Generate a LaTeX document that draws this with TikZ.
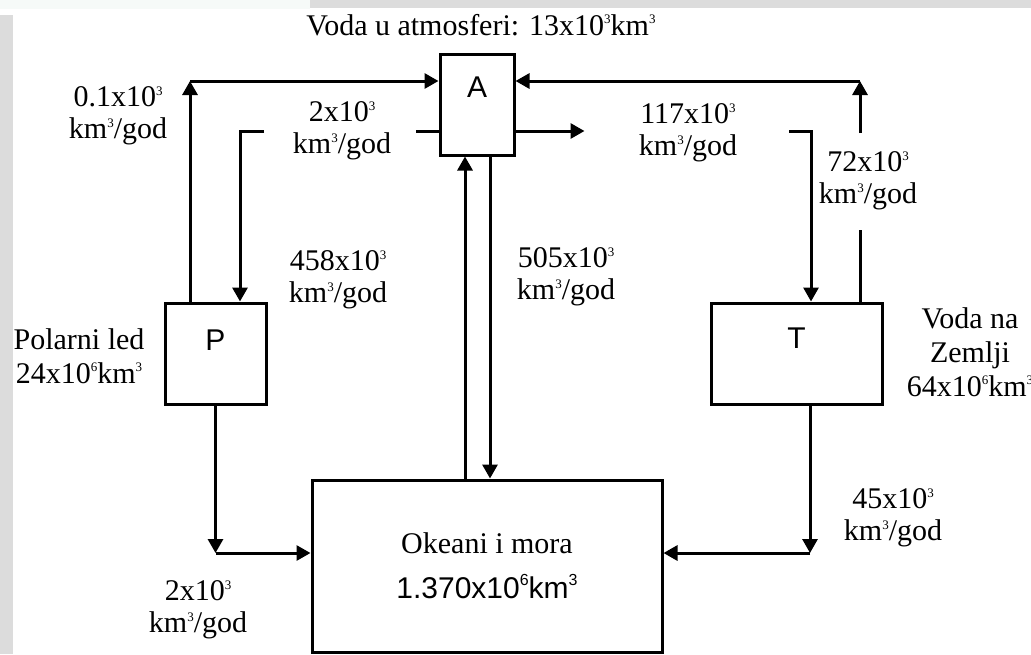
\documentclass[tikz,border=0pt]{standalone}
\usepackage{fontspec}
\setmainfont{Liberation Serif}
\setsansfont{Liberation Sans}
\usetikzlibrary{arrows.meta}
\definecolor{bgGrey}{HTML}{DCDCDC}
\definecolor{bgMint}{HTML}{F6FAF8}
\newcommand{\pw}[1]{\raisebox{0.85ex}{\fontsize{6.5}{6.5}\selectfont #1}}
\newcommand{\spw}[1]{\raisebox{0.85ex}{\fontsize{8}{8}\selectfont #1}}
\newcommand{\kmgod}{km\pw{3}/god}

\begin{document}
\begin{tikzpicture}[
    x=0.5pt,y=-0.5pt,
    font=\fontsize{15}{16}\selectfont,
    store/.style={draw,line width=1.5pt,inner sep=0pt,
                  font=\sffamily\fontsize{15}{16}\selectfont},
    rate/.style={align=center,inner sep=0pt},
    info/.style={align=center,inner sep=0pt,font=\fontsize{15}{17}\selectfont},
    flow/.style={line width=1.5pt,-{Triangle[length=7pt,width=7.5pt]}},
    wire/.style={line width=1.5pt}
  ]
    % background
    \fill[white] (0,0) rectangle (1031,654);
    \fill[bgMint] (0,0) rectangle (310,9);
    \fill[bgGrey] (310,0) rectangle (1031,8);
    \fill[bgGrey] (0,15) rectangle (13,654);
    \useasboundingbox (0,0) rectangle (1031,654);

    % reservoirs
    \node[store,minimum width=37pt,text height=21.5pt,text depth=29pt]   (air)  at (477,104.5) {A};
    \node[store,minimum width=50.5pt,text height=23.5pt,text depth=27pt] (ice)  at (215.5,353.5) {P};
    \node[store,minimum width=85.5pt,text height=22.5pt,text depth=28pt] (land) at (796.5,353.5) {T};
    \node[store,minimum width=175pt,minimum height=86pt,align=center,
          font=\fontsize{15}{16.5}\selectfont] (sea) at (487,566)
          {Okeani i mora\\[6pt]{\sffamily 1.370x10\spw{6}km\spw{3}}};

    \node[info] (airLbl)  at (481,25)  {Voda u atmosferi: 13x10\pw{3}km\pw{3}};
    \node[info] (iceLbl)  at (79,356)  {Polarni led\\24x10\pw{6}km\pw{3}};
    \node[info] (landLbl) at (970,352) {Voda na\\Zemlji\\64x10\pw{6}km\pw{3}};

    % rates
    \node[rate] (r1) at (118,116) {0.1x10\pw{3}\\\kmgod};
    \node[rate] (r2) at (342,131) {2x10\pw{3}\\\kmgod};
    \node[rate] (r3) at (338,280) {458x10\pw{3}\\\kmgod};
    \node[rate] (r4) at (566,277) {505x10\pw{3}\\\kmgod};
    \node[rate] (r5) at (688,133) {117x10\pw{3}\\\kmgod};
    \node[rate] (r6) at (868,181) {72x10\pw{3}\\\kmgod};
    \node[rate] (r7) at (198,610) {2x10\pw{3}\\\kmgod};
    \node[rate] (r8) at (893,518) {45x10\pw{3}\\\kmgod};

    \coordinate (upIce)   at (190,81);
    \coordinate (upLand)  at (860,81);
    \coordinate (inIce)   at (264,131);
    \coordinate (inLand)  at (789,131);
    \coordinate (outLand) at (860,133);
    \coordinate (toSeaW)  at (215.5,553);
    \coordinate (toSeaE)  at (810,553);

    % ice <-> air
    \draw[flow] ([shift={(-25.5,0)}]ice.north) -- (upIce);
    \draw[flow] (upIce) -- (upIce -| air.west);
    \draw[wire] (air.west |- inIce) -- ++(-23,0);
    \draw[flow] (inIce) -| ([shift={(24.5,0)}]ice.north);

    % sea <-> air
    \draw[flow] ([shift={(-22,0)}]sea.north) -- ([shift={(-12,0)}]air.south);
    \draw[flow] ([shift={(13,0)}]air.south) -- ([shift={(3,0)}]sea.north);

    % land <-> air
    \draw[flow] (air.east |- inLand) -- ++(69,0);
    \draw[flow] (inLand) -| ([shift={(14.5,0)}]land.north);
    \draw[wire] ([shift={(63.5,0)}]land.north) -- ++(0,-72);
    \draw[flow] (outLand) -- (upLand);
    \draw[flow] (upLand) -- (upLand -| air.east);

    % run-off to sea
    \draw[flow] (ice.south) -- (toSeaW);
    \draw[flow] (toSeaW) -- (toSeaW -| sea.west);
    \draw[flow] ([shift={(13.5,0)}]land.south) -- (toSeaE);
    \draw[flow] (toSeaE) -- (toSeaE -| sea.east);
  \end{tikzpicture}
\end{document}
